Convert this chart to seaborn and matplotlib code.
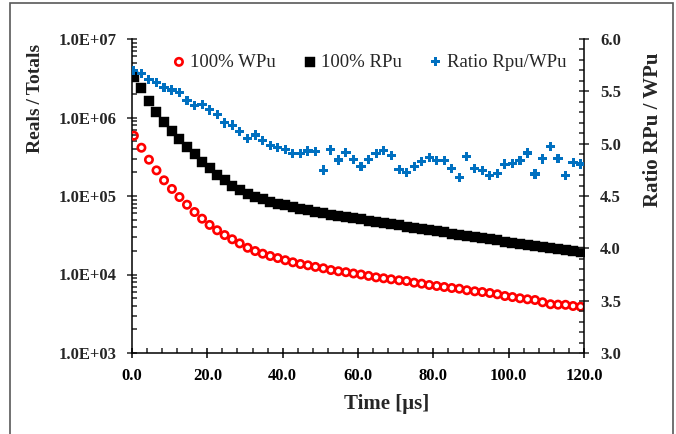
import matplotlib
matplotlib.use("Agg")
import matplotlib.pyplot as plt
import seaborn as sns
import pandas as pd
from matplotlib.ticker import FixedLocator, FuncFormatter, LogLocator, MultipleLocator, NullFormatter
from matplotlib.patches import Rectangle

# ---------------- data ----------------
time_us = [0.5, 2.5, 4.5, 6.5, 8.5, 10.6, 12.6, 14.6, 16.6, 18.6,
           20.6, 22.6, 24.6, 26.6, 28.6, 30.7, 32.7, 34.7, 36.7, 38.7,
           40.7, 42.7, 44.7, 46.7, 48.7, 50.8, 52.8, 54.8, 56.8, 58.8,
           60.8, 62.8, 64.8, 66.8, 68.8, 70.9, 72.9, 74.9, 76.9, 78.9,
           80.9, 82.9, 84.9, 86.9, 88.9, 91.0, 93.0, 95.0, 97.0, 99.0,
           101.0, 103.0, 105.0, 107.0, 109.0, 111.1, 113.1, 115.1, 117.1, 119.1]

wpu_reals_totals = [5.86e5, 4.12e5, 2.90e5, 2.12e5, 1.585e5, 1.23e5, 9.70e4, 7.74e4, 6.25e4, 5.14e4,
                    4.28e4, 3.66e4, 3.18e4, 2.81e4, 2.49e4, 2.19e4, 1.99e4, 1.84e4, 1.72e4, 1.62e4,
                    1.52e4, 1.43e4, 1.36e4, 1.31e4, 1.25e4, 1.20e4, 1.14e4, 1.10e4, 1.07e4, 1.03e4,
                    1.00e4, 9.60e3, 9.20e3, 8.95e3, 8.69e3, 8.43e3, 8.26e3, 7.87e3, 7.64e3, 7.35e3,
                    7.14e3, 6.93e3, 6.73e3, 6.59e3, 6.30e3, 6.11e3, 5.98e3, 5.81e3, 5.60e3, 5.32e3,
                    5.16e3, 4.98e3, 4.83e3, 4.73e3, 4.43e3, 4.18e3, 4.13e3, 4.11e3, 3.97e3, 3.89e3]

rpu_reals_totals = [3.25e6, 2.36e6, 1.64e6, 1.19e6, 8.83e5, 6.73e5, 5.32e5, 4.25e5, 3.40e5, 2.74e5,
                    2.25e5, 1.85e5, 1.58e5, 1.35e5, 1.19e5, 1.07e5, 9.82e4, 9.10e4, 8.49e4, 8.02e4,
                    7.59e4, 7.19e4, 6.85e4, 6.55e4, 6.27e4, 6.01e4, 5.78e4, 5.57e4, 5.38e4, 5.21e4,
                    5.05e4, 4.86e4, 4.69e4, 4.53e4, 4.38e4, 4.23e4, 4.08e4, 3.94e4, 3.81e4, 3.68e4,
                    3.56e4, 3.44e4, 3.32e4, 3.21e4, 3.10e4, 2.99e4, 2.90e4, 2.81e4, 2.72e4, 2.63e4,
                    2.55e4, 2.47e4, 2.40e4, 2.33e4, 2.26e4, 2.19e4, 2.13e4, 2.07e4, 2.00e4, 1.95e4]

ratio_rpu_wpu = [5.697, 5.672, 5.615, 5.586, 5.539, 5.513, 5.487, 5.412, 5.361, 5.375,
                 5.322, 5.278, 5.198, 5.178, 5.119, 5.046, 5.083, 5.029, 4.984, 4.960,
                 4.948, 4.908, 4.908, 4.930, 4.923, 4.748, 4.940, 4.844, 4.918, 4.851,
                 4.780, 4.848, 4.905, 4.932, 4.887, 4.755, 4.728, 4.780, 4.828, 4.868,
                 4.840, 4.840, 4.763, 4.674, 4.876, 4.763, 4.747, 4.694, 4.717, 4.805,
                 4.812, 4.841, 4.911, 4.710, 4.854, 4.973, 4.857, 4.698, 4.820, 4.806]

x_ticks = [0, 20, 40, 60, 80, 100, 120]
y_left_ticks = [1e3, 1e4, 1e5, 1e6, 1e7]
y_right_ticks = [3.0, 3.5, 4.0, 4.5, 5.0, 5.5, 6.0]

label_wpu = "100% WPu"
label_rpu = "100% RPu"
label_ratio = "Ratio Rpu/WPu"

# ---------------- style ----------------
sns.set_style("white")
plt.rcParams["font.family"] = ["Liberation Serif", "DejaVu Serif"]
plt.rcParams["font.weight"] = "bold"
plt.rcParams["axes.linewidth"] = 1.1

fig = plt.figure(figsize=(6.76, 4.34), dpi=100)
W, H = 676, 434
ax = fig.add_axes([132 / W, 1 - 353 / H, 452 / W, 314 / H])
ax.set_yscale("log")
ax.set_xlim(0, 120)
ax.set_ylim(1e3, 1e7)
ax2 = ax.twinx()
ax2.set_ylim(3.0, 6.0)

df = pd.DataFrame({"t": time_us, "w": wpu_reals_totals, "r": rpu_reals_totals, "q": ratio_rpu_wpu})

sns.scatterplot(data=df, x="t", y="w", ax=ax, marker="o", s=28, color="#FF0000",
                facecolor="none", edgecolor="#FF0000", linewidth=1.9, label=label_wpu, zorder=3)
sns.scatterplot(data=df, x="t", y="r", ax=ax, marker="s", s=50, color="black",
                edgecolor="black", linewidth=0.3, label=label_rpu, zorder=3)
sns.scatterplot(data=df, x="t", y="q", ax=ax2, marker="P", s=44, color="#0070C0",
                edgecolor="none", linewidth=0, label=label_ratio, zorder=3)

# ---------------- axes formatting ----------------
ax.xaxis.set_major_locator(FixedLocator(x_ticks))
ax.xaxis.set_minor_locator(MultipleLocator(4))
ax.xaxis.set_major_formatter(FuncFormatter(lambda v, p: f"{v:.1f}"))
ax.yaxis.set_major_locator(FixedLocator(y_left_ticks))
ax.yaxis.set_minor_locator(LogLocator(base=10, subs=[2, 3, 4, 5, 6, 7, 8, 9], numticks=20))
ax.yaxis.set_minor_formatter(NullFormatter())
ax.yaxis.set_major_formatter(FuncFormatter(lambda v, p: f"{v:.1E}"))

ax2.yaxis.set_major_locator(FixedLocator(y_right_ticks))
ax2.yaxis.set_minor_locator(MultipleLocator(0.1))
ax2.yaxis.set_major_formatter(FuncFormatter(lambda v, p: f"{v:.1f}"))

ax.set_xlabel("")
ax.set_ylabel("")
ax2.set_ylabel("")

for a in (ax, ax2):
    a.spines["top"].set_visible(False)
    for s in a.spines.values():
        s.set_color("black")
        s.set_linewidth(1.1)
ax.spines["right"].set_visible(False)
ax2.spines["left"].set_visible(False)
ax2.spines["bottom"].set_visible(False)

ax.tick_params(axis="x", which="major", direction="inout", length=7, width=1.1,
               labelsize=12, pad=7, top=False, bottom=True, colors="black")
ax.tick_params(axis="x", which="minor", direction="in", length=3.5, width=1.1, top=False, bottom=True)
ax.tick_params(axis="y", which="major", direction="inout", length=7, width=1.1,
               labelsize=12, pad=7.5, left=True, right=False)
ax.tick_params(axis="y", which="minor", direction="in", length=3.5, width=1.1, left=True, right=False)
ax2.tick_params(axis="y", which="major", direction="inout", length=7, width=1.1,
                labelsize=12, pad=8, right=True, left=False)
ax2.tick_params(axis="y", which="minor", direction="in", length=3.5, width=1.1, right=True, left=False)

for lab in ax.get_xticklabels() + ax.get_yticklabels() + ax2.get_yticklabels():
    lab.set_fontweight("bold")

# axis titles
fig.text(36 / W, 1 - 98 / H, "Reals\u2009/\u2009Totals", rotation=90, ha="center", va="center",
         fontsize=14, fontweight="bold")
fig.text(653 / W, 1 - 130 / H, "Ratio RPu / WPu", rotation=90, ha="center", va="center",
         fontsize=15, fontweight="bold")
fig.text(387 / W, 1 - 404 / H, "Time [\u03bcs]", ha="center", va="center",
         fontsize=15, fontweight="bold")

# legend
h1, l1 = ax.get_legend_handles_labels()
h2, l2 = ax2.get_legend_handles_labels()
lg = ax.get_legend()
if lg is not None:
    lg.remove()
lg2 = ax2.get_legend()
if lg2 is not None:
    lg2.remove()
ax2.legend(h1 + h2, l1 + l2, loc="center", bbox_to_anchor=(0.522, 0.926), ncol=3,
           frameon=False, handletextpad=0.1, columnspacing=1.3, handlelength=1.0,
           borderpad=0, prop={"weight": "normal", "size": 13.5})

# outer frame
fig.add_artist(Rectangle((10 / W, -0.05), (673 - 10) / W, 1 - 3 / H + 0.05,
                         transform=fig.transFigure, fill=False, edgecolor="#595959", linewidth=1.2))

fig.savefig("out.png", dpi=100)
